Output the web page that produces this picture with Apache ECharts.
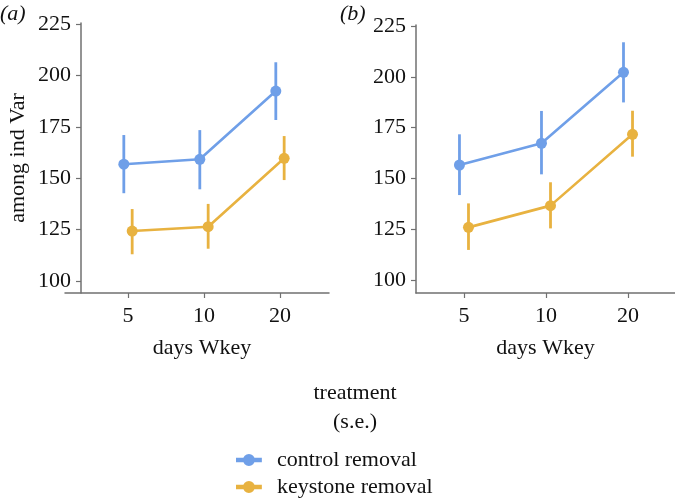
<!DOCTYPE html>
<html>
<head>
<meta charset="utf-8">
<script src="https://cdn.jsdelivr.net/npm/echarts@6/dist/echarts.min.js"></script>
<style>
html, body { margin: 0; padding: 0; background: #fff; }
#chart { width: 675px; height: 500px; }
</style>
</head>
<body>
<div id="chart"></div>
<script>
// days Wkey categories (placed at x = 1, 2, 3)
const days = ['5', '10', '20']
const yTicks = [100, 125, 150, 175, 200, 225]
const treatments = ['control removal', 'keystone removal']

// panel (a)
const aControl = [156.8, 159.2, 192.4]
const aControlLo = [142.7, 144.6, 178.3]
const aControlHi = [171.0, 173.4, 206.4]
const aKeystone = [124.3, 126.4, 159.7]
const aKeystoneLo = [113.0, 115.7, 149.1]
const aKeystoneHi = [135.0, 137.5, 170.5]

// panel (b)
const bControl = [156.6, 167.3, 202.2]
const bControlLo = [141.8, 152.0, 187.4]
const bControlHi = [171.7, 183.2, 217.0]
const bKeystone = [125.9, 136.6, 171.7]
const bKeystoneLo = [114.8, 125.4, 160.7]
const bKeystoneHi = [137.7, 148.1, 183.3]

const colors = ['#6f9fe8', '#e8b240']
const axisColor = '#707070'
const font = '"Liberation Serif", "DejaVu Serif", serif'
const fs = 22
const dodge = 0.055
// legend key: horizontal bar with a dot in the middle
const keyIcon = 'path://M0,3.5H28V8.5H0Z M20.5,6A6.5,6.5,0,1,1,7.5,6A6.5,6.5,0,1,1,20.5,6Z'

function points (vals, shift) {
    return vals.map((v, i) => [i + 1 + shift, v])
}

function bars (lo, hi, shift) {
    return lo.map((v, i) => [i + 1 + shift, v, hi[i]])
}

function errorSeries (name, idx, lo, hi, shift, color) {
    return {
        name: name,
        type: 'custom',
        xAxisIndex: idx,
        yAxisIndex: idx,
        data: bars(lo, hi, shift),
        silent: true,
        z: 3,
        renderItem: function (params, api) {
            const p1 = api.coord([api.value(0), api.value(1)])
            const p2 = api.coord([api.value(0), api.value(2)])
            return {
                type: 'line',
                shape: {x1: p1[0], y1: p1[1], x2: p2[0], y2: p2[1]},
                style: {stroke: color, lineWidth: 2.8}
            }
        }
    }
}

function lineSeries (name, idx, vals, shift, color) {
    return {
        name: name,
        type: 'line',
        xAxisIndex: idx,
        yAxisIndex: idx,
        data: points(vals, shift),
        symbol: 'circle',
        symbolSize: 11,
        z: 4,
        lineStyle: {color: color, width: 2.6},
        itemStyle: {color: color}
    }
}

function xAxis (idx, min, max, namePad) {
    return {
        type: 'value',
        gridIndex: idx,
        min: min,
        max: max,
        splitLine: {show: false},
        axisLine: {onZero: false, lineStyle: {color: axisColor, width: 1.5}},
        axisTick: {customValues: [1, 2, 3], length: 5, lineStyle: {color: axisColor, width: 1.2}},
        axisLabel: {
            customValues: [1, 2, 3],
            formatter: v => days[Math.round(v) - 1],
            color: '#111',
            fontFamily: font,
            fontSize: fs,
            margin: 12
        },
        name: 'days Wkey',
        nameLocation: 'middle',
        nameGap: 44,
        nameTextStyle: {color: '#111', fontFamily: font, fontSize: fs, padding: [0, 0, 0, namePad]}
    }
}

function yAxis (idx, min, max, offset, title) {
    return {
        type: 'value',
        gridIndex: idx,
        min: min,
        max: max,
        offset: offset,
        splitLine: {show: false},
        axisLine: {show: true, onZero: false, lineStyle: {color: axisColor, width: 1.5}},
        axisTick: {show: true, customValues: yTicks, length: 5, lineStyle: {color: axisColor, width: 1.2}},
        axisLabel: {
            customValues: yTicks,
            color: '#111',
            fontFamily: font,
            fontSize: fs,
            margin: 10
        },
        name: title,
        nameLocation: 'middle',
        nameGap: 52,
        nameTextStyle: {color: '#111', fontFamily: font, fontSize: fs}
    }
}

const chart = echarts.init(document.getElementById('chart'))

const titleStyle = {fontFamily: font, fontSize: fs, fontWeight: 'normal', color: '#111'}

const option = {
    animation: false,
    backgroundColor: '#ffffff',
    color: colors,
    title: [
        {text: '(a)', left: 0, top: 3, padding: 0, textStyle: Object.assign({}, titleStyle, {fontStyle: 'italic'})},
        {text: '(b)', left: 340, top: 3, padding: 0, textStyle: Object.assign({}, titleStyle, {fontStyle: 'italic'})},
        {text: 'treatment', left: 355, top: 382, padding: 0, textAlign: 'center', textStyle: titleStyle},
        {text: '(s.e.)', left: 355, top: 411, padding: 0, textAlign: 'center', textStyle: titleStyle}
    ],
    legend: {
        data: treatments.map(n => ({name: n, icon: keyIcon})),
        orient: 'vertical',
        left: 236,
        top: 449,
        padding: 0,
        itemWidth: 28,
        itemHeight: 12,
        itemGap: 5,
        textStyle: {fontFamily: font, fontSize: fs, color: '#111', padding: [0, 0, 0, 9]}
    },
    grid: [
        {left: 65, top: 23, width: 264, height: 270},
        {left: 416, top: 25, width: 259, height: 268}
    ],
    xAxis: [
        xAxis(0, 0.171, 3.645, 10),
        xAxis(1, 0.415, 3.573, 0)
    ],
    yAxis: [
        yAxis(0, 94.16, 225.5, -16, 'among ind Var'),
        yAxis(1, 93.6, 225.5, 0, '')
    ],
    series: [
        errorSeries(treatments[0], 0, aControlLo, aControlHi, -dodge, colors[0]),
        errorSeries(treatments[1], 0, aKeystoneLo, aKeystoneHi, dodge, colors[1]),
        lineSeries(treatments[0], 0, aControl, -dodge, colors[0]),
        lineSeries(treatments[1], 0, aKeystone, dodge, colors[1]),
        errorSeries(treatments[0], 1, bControlLo, bControlHi, -dodge, colors[0]),
        errorSeries(treatments[1], 1, bKeystoneLo, bKeystoneHi, dodge, colors[1]),
        lineSeries(treatments[0], 1, bControl, -dodge, colors[0]),
        lineSeries(treatments[1], 1, bKeystone, dodge, colors[1])
    ]
}

chart.setOption(option)
</script>
</body>
</html>
